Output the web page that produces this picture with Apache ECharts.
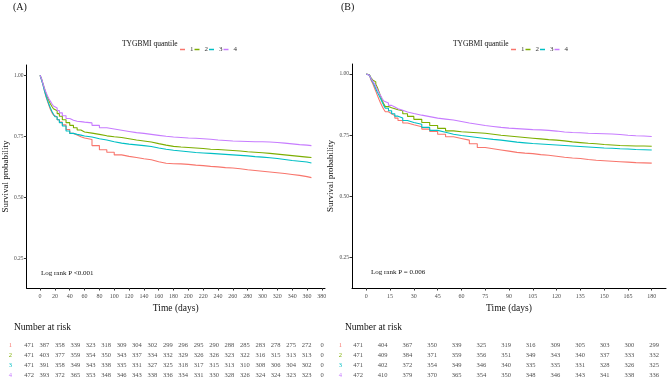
<!DOCTYPE html>
<html>
<head>
<meta charset="utf-8">
<script src="https://cdn.jsdelivr.net/npm/echarts@6/dist/echarts.min.js"></script>
<style>
  html, body { margin: 0; padding: 0; background: #fff; }
  #main { width: 669px; height: 380px; }
</style>
</head>
<body>
<div id="main"></div>
<script>
// groups (TYGBMI quantile) and ggplot default hue colours
var groups = ['1', '2', '3', '4'];
var colors = ['#F8766D', '#7CAE00', '#00BFC4', '#C77CFF'];

// panel A: 1-year follow-up, survival
var timesA = [0, 2, 4, 6, 8, 10, 12, 14, 16, 18, 20, 23, 26, 30, 35, 40, 45, 50, 55, 60,
    70, 80, 90, 100, 110, 120, 130, 140, 150, 160, 170, 180, 190, 200, 210, 220, 230, 240,
    250, 260, 270, 280, 290, 300, 310, 320, 330, 340, 350, 360, 366];
var survA1 = [1, 0.98, 0.96, 0.935, 0.912, 0.893, 0.876, 0.86, 0.847, 0.837, 0.829, 0.818, 0.808, 0.797, 0.778, 0.762, 0.755, 0.748, 0.743, 0.737,
    0.712, 0.695, 0.685, 0.674, 0.668, 0.663, 0.658, 0.654, 0.646, 0.64, 0.638, 0.637, 0.635, 0.632, 0.63, 0.627, 0.625, 0.622,
    0.62, 0.617, 0.613, 0.61, 0.607, 0.604, 0.601, 0.598, 0.594, 0.59, 0.585, 0.581, 0.579];
var survA2 = [1, 0.985, 0.965, 0.945, 0.925, 0.91, 0.895, 0.882, 0.872, 0.863, 0.855, 0.843, 0.832, 0.818, 0.806, 0.795, 0.785, 0.776, 0.768, 0.763,
    0.758, 0.752, 0.748, 0.745, 0.74, 0.735, 0.731, 0.727, 0.72, 0.714, 0.709, 0.706, 0.704, 0.702, 0.7, 0.697, 0.696, 0.694,
    0.692, 0.69, 0.687, 0.685, 0.683, 0.68, 0.677, 0.674, 0.671, 0.668, 0.665, 0.663, 0.661];
var survA3 = [1, 0.98, 0.96, 0.935, 0.915, 0.897, 0.88, 0.865, 0.852, 0.84, 0.83, 0.818, 0.806, 0.792, 0.772, 0.762, 0.758, 0.755, 0.751, 0.747,
    0.74, 0.735, 0.728, 0.722, 0.718, 0.715, 0.712, 0.708, 0.702, 0.697, 0.693, 0.69, 0.687, 0.684, 0.682, 0.68, 0.678, 0.676,
    0.674, 0.672, 0.67, 0.667, 0.665, 0.662, 0.659, 0.655, 0.651, 0.648, 0.645, 0.641, 0.639];
var survA4 = [1, 0.985, 0.965, 0.945, 0.93, 0.915, 0.903, 0.893, 0.883, 0.874, 0.866, 0.856, 0.846, 0.834, 0.823, 0.816, 0.812, 0.81, 0.808, 0.805,
    0.795, 0.785, 0.78, 0.775, 0.77, 0.765, 0.762, 0.758, 0.754, 0.75, 0.747, 0.745, 0.743, 0.742, 0.74, 0.738, 0.735, 0.733,
    0.731, 0.73, 0.729, 0.728, 0.728, 0.727, 0.725, 0.722, 0.719, 0.716, 0.714, 0.712, 0.711];

// panel B: 180-day follow-up
var timesB = [0, 1, 2, 3, 4, 5, 6, 7, 8, 9, 10, 11, 12, 14, 16, 18, 20, 23, 26, 30,
    35, 40, 45, 50, 55, 60, 65, 70, 75, 80, 85, 90, 95, 100, 105, 110, 115, 120, 125, 130,
    135, 140, 145, 150, 155, 160, 165, 170, 175, 180];
var survB1 = [1, 0.995, 0.987, 0.975, 0.962, 0.946, 0.93, 0.913, 0.897, 0.882, 0.868, 0.856, 0.846, 0.838, 0.83, 0.82, 0.81, 0.8, 0.793, 0.785,
    0.775, 0.765, 0.754, 0.744, 0.737, 0.73, 0.715, 0.70, 0.695, 0.69, 0.685, 0.68, 0.677, 0.675, 0.671, 0.668, 0.664, 0.66, 0.657, 0.655,
    0.651, 0.648, 0.646, 0.644, 0.642, 0.64, 0.638, 0.637, 0.636, 0.635];
var survB2 = [1, 0.997, 0.992, 0.985, 0.976, 0.968, 0.958, 0.945, 0.928, 0.91, 0.893, 0.878, 0.867, 0.862, 0.858, 0.854, 0.85, 0.838, 0.827, 0.815,
    0.802, 0.79, 0.778, 0.768, 0.764, 0.762, 0.76, 0.758, 0.754, 0.75, 0.747, 0.744, 0.741, 0.738, 0.735, 0.732, 0.73, 0.727, 0.723, 0.72,
    0.717, 0.715, 0.712, 0.71, 0.708, 0.707, 0.706, 0.706, 0.705, 0.705];
var survB3 = [1, 0.995, 0.99, 0.98, 0.968, 0.955, 0.94, 0.926, 0.913, 0.9, 0.886, 0.872, 0.86, 0.85, 0.838, 0.828, 0.82, 0.81, 0.802, 0.795,
    0.782, 0.77, 0.762, 0.754, 0.749, 0.745, 0.741, 0.737, 0.733, 0.73, 0.726, 0.722, 0.719, 0.716, 0.714, 0.712, 0.71, 0.708, 0.706, 0.704,
    0.702, 0.7, 0.698, 0.697, 0.695, 0.694, 0.692, 0.691, 0.69, 0.689];
var survB4 = [1, 0.995, 0.99, 0.982, 0.972, 0.962, 0.95, 0.937, 0.924, 0.912, 0.9, 0.89, 0.882, 0.872, 0.865, 0.858, 0.852, 0.845, 0.839, 0.832,
    0.826, 0.82, 0.816, 0.812, 0.806, 0.8, 0.795, 0.79, 0.786, 0.782, 0.779, 0.777, 0.775, 0.773, 0.772, 0.77, 0.767, 0.763, 0.761, 0.76,
    0.758, 0.757, 0.756, 0.755, 0.753, 0.75, 0.748, 0.747, 0.745, 0.743];

// tick labels
var ticksA = [0, 20, 40, 60, 80, 100, 120, 140, 160, 180, 200, 220, 240, 260, 280, 300, 320, 340, 360, 380];
var ticksB = [0, 15, 30, 45, 60, 75, 90, 105, 120, 135, 150, 165, 180];
var ticksY = [0.25, 0.5, 0.75, 1];

// number at risk tables
var riskA1 = [471, 387, 358, 339, 323, 318, 309, 304, 302, 299, 296, 295, 290, 288, 285, 283, 278, 275, 272, 0];
var riskA2 = [471, 403, 377, 359, 354, 350, 343, 337, 334, 332, 329, 326, 326, 323, 322, 316, 315, 313, 313, 0];
var riskA3 = [471, 391, 358, 349, 343, 338, 335, 331, 327, 325, 318, 317, 315, 313, 310, 308, 306, 304, 302, 0];
var riskA4 = [472, 393, 372, 365, 353, 348, 346, 343, 338, 336, 334, 331, 330, 328, 326, 324, 324, 323, 323, 0];
var riskB1 = [471, 404, 367, 350, 339, 325, 319, 316, 309, 305, 303, 300, 299];
var riskB2 = [471, 409, 384, 371, 359, 356, 351, 349, 343, 340, 337, 333, 332];
var riskB3 = [471, 402, 372, 354, 349, 346, 340, 335, 335, 331, 328, 326, 325];
var riskB4 = [472, 410, 379, 370, 365, 354, 350, 348, 346, 343, 341, 338, 336];

var serif = '"Liberation Serif", "DejaVu Serif", serif';
var myChart = echarts.init(document.getElementById('main'));

function pairs(xs, ys) {
    return xs.map(function (x, i) { return [x, ys[i]]; });
}

function kmSeries(idx, times, survs) {
    return survs.map(function (s, g) {
        return {
            name: groups[g],
            type: 'line',
            step: 'end',
            xAxisIndex: idx,
            yAxisIndex: idx,
            symbol: 'none',
            silent: true,
            lineStyle: {color: colors[g], width: 1.1},
            itemStyle: {color: colors[g]},
            data: pairs(times, s)
        };
    });
}

function riskSeries(idx, ticks, risks) {
    var data = [];
    risks.forEach(function (row, g) {
        row.forEach(function (n, i) {
            data.push([ticks[i], groups[g], n]);
        });
    });
    return {
        type: 'scatter',
        xAxisIndex: idx,
        yAxisIndex: idx,
        symbolSize: 1,
        silent: true,
        itemStyle: {color: 'rgba(0,0,0,0)'},
        label: {
            show: true,
            position: 'inside',
            formatter: function (p) { return p.value[2]; },
            fontFamily: serif,
            fontSize: 6.5,
            color: '#222'
        },
        data: data
    };
}

function plotX(gridIndex, min, max, ticks) {
    return {
        type: 'value', gridIndex: gridIndex, min: min, max: max,
        name: 'Time (days)', nameLocation: 'middle', nameGap: 11,
        nameTextStyle: {fontFamily: serif, fontSize: 9.5, color: '#111'},
        axisLine: {show: true, onZero: false, lineStyle: {color: '#000', width: 1}},
        axisTick: {show: true, length: 2.5, customValues: ticks, lineStyle: {color: '#333'}},
        axisLabel: {customValues: ticks, margin: 5, fontFamily: serif, fontSize: 6, color: '#4d4d4d'},
        splitLine: {show: false}
    };
}

function plotY(gridIndex, min, max, gap) {
    return {
        type: 'value', gridIndex: gridIndex, min: min, max: max,
        name: 'Survival probability', nameLocation: 'middle', nameGap: gap,
        nameTextStyle: {fontFamily: serif, fontSize: 9, color: '#111'},
        axisLine: {show: true, onZero: false, lineStyle: {color: '#000', width: 1}},
        axisTick: {show: true, length: 2.5, customValues: ticksY, lineStyle: {color: '#333'}},
        axisLabel: {
            customValues: ticksY, margin: 3, fontFamily: serif, fontSize: 5.5, color: '#4d4d4d',
            formatter: function (v) { return v.toFixed(2); }
        },
        splitLine: {show: false}
    };
}

function tableX(gridIndex, max) {
    return {type: 'value', gridIndex: gridIndex, min: 0, max: max, show: false};
}

function tableY(gridIndex, margin) {
    return {
        type: 'category', gridIndex: gridIndex, data: groups, inverse: true,
        axisLine: {show: false}, axisTick: {show: false}, splitLine: {show: false},
        axisLabel: {
            margin: margin, fontFamily: serif, fontSize: 6.5,
            color: function (v, i) { return colors[i]; }
        }
    };
}

function txt(x, y, s, size, align) {
    return {
        type: 'text', x: x, y: y, silent: true,
        style: {
            text: s, fontFamily: serif, fontSize: size, fill: '#111',
            textAlign: align || 'left', textVerticalAlign: 'middle'
        }
    };
}

var legendBase = {
    data: groups, top: 41, icon: 'rect', itemWidth: 5, itemHeight: 1.5, itemGap: 1,
    textStyle: {fontFamily: serif, fontSize: 7, color: '#333'}
};

var option = {
    backgroundColor: '#fff',
    animation: false,
    grid: [
        {left: 22, top: 65, width: 303, height: 223},
        {left: 352, top: 64, width: 314, height: 224},
        {left: 29, top: 340, width: 293, height: 42},
        {left: 358, top: 340, width: 296, height: 42}
    ],
    legend: [
        Object.assign({left: 175}, legendBase),
        Object.assign({left: 506}, legendBase)
    ],
    xAxis: [
        plotX(0, -18.3, 384.3, ticksA),
        plotX(1, -9, 189, ticksB),
        tableX(2, 380),
        tableX(3, 180)
    ],
    yAxis: [
        plotY(0, 0.129, 1.042, 12),
        plotY(1, 0.126, 1.041, 10),
        tableY(2, 17),
        tableY(3, 16)
    ],
    graphic: [
        txt(13, 7, '(A)', 10),
        txt(341, 7, '(B)', 10),
        txt(122, 44, 'TYGBMI quantile', 7.5),
        txt(453, 44, 'TYGBMI quantile', 7.5),
        txt(41, 273, 'Log rank P <0.001', 7),
        txt(371, 272, 'Log rank P = 0.006', 7),
        txt(14, 327, 'Number at risk', 9.5),
        txt(345, 327, 'Number at risk', 9.5)
    ],
    series: [].concat(
        kmSeries(0, timesA, [survA1, survA2, survA3, survA4]),
        kmSeries(1, timesB, [survB1, survB2, survB3, survB4]),
        [riskSeries(2, ticksA, [riskA1, riskA2, riskA3, riskA4]),
         riskSeries(3, ticksB, [riskB1, riskB2, riskB3, riskB4])]
    )
};
myChart.setOption(option);
</script>
</body>
</html>
